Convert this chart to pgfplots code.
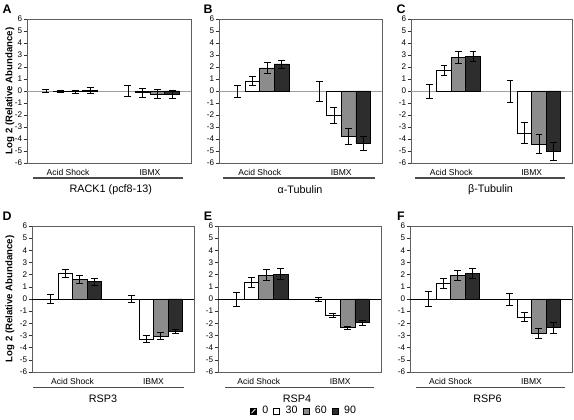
\documentclass[border=0pt]{standalone}
\usepackage{fontspec}
\setmainfont{Liberation Sans}
\usepackage{pgfplots}
\pgfplotsset{compat=1.18}
\definecolor{gbar}{RGB}{140,140,140}
\definecolor{dbar}{RGB}{45,45,45}
\definecolor{frame}{RGB}{95,95,95}
\pgfplotsset{
  panel/.style={
    scale only axis, anchor=south west, clip=false,
    xmin=-0.5, xmax=1.5, ymin=-6, ymax=6,
    ytick={-6,-5,-4,-3,-2,-1,0,1,2,3,4,5,6},
    yticklabels={-6,-5,-4,-3,-2,-1,0,1,2,3,4,5,6},
    xtick={0,1}, xticklabels={Acid Shock,IBMX},
    tick align=outside, ytick pos=left, xtick pos=bottom,
    major tick length=2.5pt,
    xtick style={draw=none},
    ytick style={black!80, line width=0.4pt},
    axis line style={frame, line width=0.6pt},
    yticklabel style={font=\fontsize{6.1}{7}\selectfont, text=black, inner sep=1pt},
    xticklabel style={font=\fontsize{6.4}{7}\selectfont, text=black, inner sep=0pt, yshift=-2pt},
  },
  mybar/.style={ybar, bar width=0.18, bar shift=0pt, draw=black, line width=0.5pt,
    error bars/y dir=both, error bars/y explicit,
    error bars/error mark=-,
    error bars/error bar style={draw=black, line width=0.5pt},
    error bars/error mark options={draw=black, mark size=2.6pt, line width=0.5pt, rotate=90}},
  zerobar/.style={mybar, draw=none, fill=none,
    legend image code/.code={
      \fill[black] (0pt,-2.25pt) rectangle (4.5pt,2.25pt);
      \draw[white, line width=0.6pt] (0.9pt,-1.6pt) -- (3.8pt,1.6pt);
      \draw[black,line width=0.4pt] (0pt,-2.25pt) rectangle (4.5pt,2.25pt);}},
  sqlegend/.style={legend image code/.code={\draw[##1, line width=0.4pt] (0pt,-2.25pt) rectangle (4.5pt,2.25pt);}},
}
\begin{document}
\begin{tikzpicture}
% ---------- A ----------
\begin{axis}[panel, at={(20.25pt,192.75pt)}, width=123pt, height=108pt]
\draw[gray!75, line width=0.7pt] (axis cs:-0.5,0) -- (axis cs:1.5,0);
\addplot[zerobar] table[row sep=\\, y error index=2] {-0.27 0 0.1\\ 0.73 0 0.45\\};
\addplot[mybar, fill=white] table[row sep=\\, y error index=2] {-0.09 -0.05 0.1\\ 0.91 -0.15 0.35\\};
\addplot[mybar, fill=gbar] table[row sep=\\, y error index=2] {0.09 -0.05 0.12\\ 1.09 -0.25 0.35\\};
\addplot[mybar, fill=dbar] table[row sep=\\, y error index=2] {0.27 0.02 0.25\\ 1.27 -0.3 0.35\\};
\end{axis}
% ---------- B ----------
\begin{axis}[panel, at={(164.25pt,192.75pt)}, width=122.25pt, height=108pt]
\draw[gray!75, line width=0.7pt] (axis cs:-0.5,0) -- (axis cs:1.5,0);
\addplot[zerobar] table[row sep=\\, y error index=2] {-0.27 0 0.5\\ 0.73 -0.05 0.82\\};
\addplot[mybar, fill=white] table[row sep=\\, y error index=2] {-0.09 0.83 0.38\\ 0.91 -2.03 0.65\\};
\addplot[mybar, fill=gbar] table[row sep=\\, y error index=2] {0.09 1.93 0.42\\ 1.09 -3.75 0.66\\};
\addplot[mybar, fill=dbar] table[row sep=\\, y error index=2] {0.27 2.26 0.33\\ 1.27 -4.36 0.6\\};
\end{axis}
% ---------- C ----------
\begin{axis}[panel, at={(308.25pt,192.75pt)}, width=120.75pt, height=108pt]
\draw[gray!75, line width=0.7pt] (axis cs:-0.5,0) -- (axis cs:1.5,0);
\addplot[zerobar] table[row sep=\\, y error index=2] {-0.27 0 0.57\\ 0.73 -0.05 0.93\\};
\addplot[mybar, fill=white] table[row sep=\\, y error index=2] {-0.09 1.71 0.41\\ 0.91 -3.5 0.85\\};
\addplot[mybar, fill=gbar] table[row sep=\\, y error index=2] {0.09 2.81 0.47\\ 1.09 -4.41 0.76\\};
\addplot[mybar, fill=dbar] table[row sep=\\, y error index=2] {0.27 2.9 0.43\\ 1.27 -5.02 0.77\\};
\end{axis}
% ---------- D ----------
\begin{axis}[panel, at={(24pt,36pt)}, width=121.5pt, height=109.5pt]
\draw[black, line width=0.5pt] (axis cs:-0.5,0) -- (axis cs:1.5,0);
\addplot[zerobar] table[row sep=\\, y error index=2] {-0.27 0 0.37\\ 0.73 0 0.3\\};
\addplot[mybar, fill=white] table[row sep=\\, y error index=2] {-0.09 2.08 0.33\\ 0.91 -3.29 0.3\\};
\addplot[mybar, fill=gbar] table[row sep=\\, y error index=2] {0.09 1.59 0.34\\ 1.09 -3.04 0.29\\};
\addplot[mybar, fill=dbar] table[row sep=\\, y error index=2] {0.27 1.42 0.3\\ 1.27 -2.66 0.2\\};
\end{axis}
% ---------- E ----------
\begin{axis}[panel, at={(163.5pt,36pt)}, width=122.25pt, height=109.5pt,
  legend columns=4,
  legend style={at={(0.525,-0.267)}, anchor=center, draw=none, fill=none,
    font=\fontsize{8}{9}\selectfont, inner sep=0pt, nodes={inner sep=0.8pt},
    /tikz/every odd column/.append style={column sep=1.5pt},
    /tikz/every even column/.append style={column sep=3pt}}]
\draw[black, line width=0.5pt] (axis cs:-0.5,0) -- (axis cs:1.5,0);
\addplot[zerobar] table[row sep=\\, y error index=2] {-0.27 0 0.58\\ 0.73 -0.05 0.15\\};
\addplot[mybar, fill=white, sqlegend] table[row sep=\\, y error index=2] {-0.09 1.34 0.41\\ 0.91 -1.32 0.16\\};
\addplot[mybar, fill=gbar, sqlegend] table[row sep=\\, y error index=2] {0.09 1.97 0.45\\ 1.09 -2.36 0.15\\};
\addplot[mybar, fill=dbar, sqlegend] table[row sep=\\, y error index=2] {0.27 2.03 0.45\\ 1.27 -1.95 0.2\\};
\legend{\hspace{2pt}0,\hspace{2pt}30,\hspace{2pt}60,\hspace{2pt}90}
\end{axis}
% ---------- F ----------
\begin{axis}[panel, at={(307.5pt,36pt)}, width=121.5pt, height=109.5pt]
\draw[black, line width=0.5pt] (axis cs:-0.5,0) -- (axis cs:1.5,0);
\addplot[zerobar] table[row sep=\\, y error index=2] {-0.27 0 0.63\\ 0.73 0 0.5\\};
\addplot[mybar, fill=white] table[row sep=\\, y error index=2] {-0.09 1.29 0.44\\ 0.91 -1.48 0.37\\};
\addplot[mybar, fill=gbar] table[row sep=\\, y error index=2] {0.09 1.95 0.43\\ 1.09 -2.82 0.4\\};
\addplot[mybar, fill=dbar] table[row sep=\\, y error index=2] {0.27 2.12 0.44\\ 1.27 -2.36 0.45\\};
\end{axis}
% ---------- decorations (pixel coordinates, origin top-left) ----------
\begin{scope}[x=0.75pt, y=-0.75pt, shift={(0pt,315pt)}]
\foreach \lx/\ly/\lt in {7/9/A, 208/9/B, 401/9/C, 7/216/D, 208/216/E, 401/216/F}
  \node[font=\bfseries\fontsize{9.3}{10}\selectfont] at (\lx,\ly) {\lt};
\node[rotate=90, font=\bfseries\fontsize{7.2}{8}\selectfont] at (10,91) {Log 2 (Relative Abundance)};
\node[rotate=90, font=\bfseries\fontsize{7.2}{8}\selectfont] at (10,299) {Log 2 (Relative Abundance)};
\draw[black!70, line width=1.1pt] (33,178) -- (183,178);
\draw[black!70, line width=1.1pt] (223,178) -- (375,178);
\draw[black!70, line width=1.1pt] (415,178) -- (565,178);
\draw[black!70, line width=1.1pt] (33,387.5) -- (184,387.5);
\draw[black!70, line width=1.1pt] (225,387.5) -- (374,387.5);
\draw[black!70, line width=1.1pt] (416,387.5) -- (565,387.5);
\node[font=\fontsize{8.1}{10}\selectfont] at (110.8,190) {RACK1 (pcf8-13)};
\node[font=\fontsize{8.1}{10}\selectfont] at (300,190) {α-Tubulin};
\node[font=\fontsize{8.1}{10}\selectfont] at (490.5,190) {β-Tubulin};
\node[font=\fontsize{8.1}{10}\selectfont] at (103,399) {RSP3};
\node[font=\fontsize{8.1}{10}\selectfont] at (297,399) {RSP4};
\node[font=\fontsize{8.1}{10}\selectfont] at (487.5,399) {RSP6};
\pgfresetboundingbox
\useasboundingbox (0,0) rectangle (574,420);
\end{scope}
\end{tikzpicture}
\end{document}
